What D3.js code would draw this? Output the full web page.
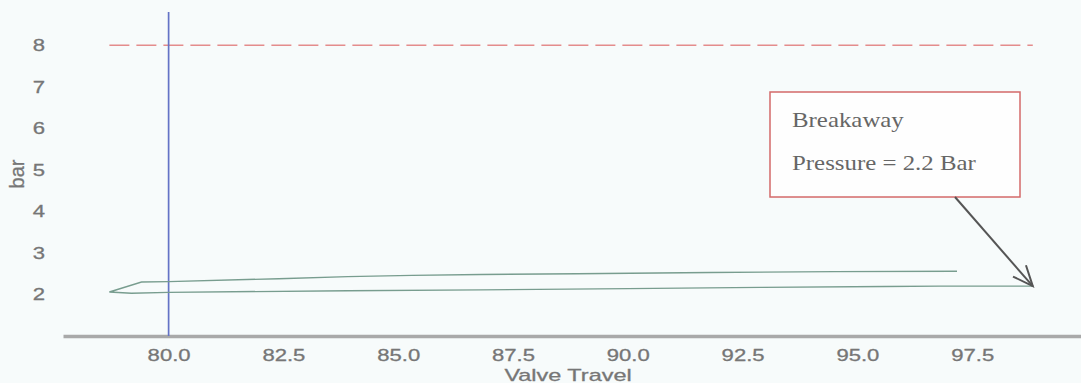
<!DOCTYPE html>
<html>
<head>
<meta charset="utf-8">
<script src="https://cdn.jsdelivr.net/npm/d3@7"></script>
<style>
  html, body { margin: 0; padding: 0; background: #f7fbfb; }
  svg { display: block; }
</style>
</head>
<body>
<svg id="chart" width="1081" height="383"></svg>
<script>
// Valve travel vs. pressure hysteresis trace
// Trace runs from the end of the opening stroke back to the turn-around, then out again.
const travel = [97.17, 94.5, 91.8, 88.9, 86.8, 85.3, 83.9, 82.4, 80.0, 79.41,
                78.71,
                79.19, 80.0, 83.9, 86.8, 90.0, 92.9, 95.6, 96.8, 98.82];
const pressure = [2.56, 2.55, 2.53, 2.50, 2.48, 2.46, 2.43, 2.38, 2.31, 2.30,
                  2.06,
                  2.03, 2.05, 2.09, 2.11, 2.14, 2.17, 2.19, 2.20, 2.20];

const xTicks = [80.0, 82.5, 85.0, 87.5, 90.0, 92.5, 95.0, 97.5];
const yTicks = [2, 3, 4, 5, 6, 7, 8];

const supplyPressure = 8;        // dashed reference line
const markerTravel = 80;         // vertical marker
const breakawayPressure = 2.2;   // annotated value
const breakawayTravel = 98.82;

const xLabel = "Valve Travel";
const yLabel = "bar";

const svg = d3.select("#chart");

const x = d3.scaleLinear().domain([77.7, 99.87]).range([63, 1081]);
const y = d3.scaleLinear().domain([1, 8.8]).range([336, 12]);

const textGray = "#767676";
const sans = "'Liberation Sans', Arial, sans-serif";
const sx = 1.3; // wide glyphs

function styleTick(sel) {
  sel.attr("fill", textGray)
    .attr("stroke", textGray).attr("stroke-width", 0.3)
    .style("font-family", sans)
    .style("font-size", "17px")
    .attr("transform", `scale(${sx},1)`);
}

// X axis
const xAxis = svg.append("g")
  .attr("transform", "translate(0,336)")
  .call(d3.axisBottom(x).tickValues(xTicks).tickSize(0).tickSizeOuter(0)
    .tickPadding(13).tickFormat(d3.format(".1f")));
xAxis.select(".domain").attr("stroke", "#a9a9a9").attr("stroke-width", 3.5);
xAxis.selectAll("text").call(styleTick);

// Y axis
const yAxis = svg.append("g")
  .attr("transform", "translate(63,0)")
  .call(d3.axisLeft(y).tickValues(yTicks).tickSize(0).tickFormat(d3.format("d")));
yAxis.select(".domain").remove();
yAxis.selectAll("text").attr("x", -18 / sx).call(styleTick);

// Axis titles
svg.append("text")
  .attr("transform", `translate(568,381) scale(1.38,1)`)
  .attr("text-anchor", "middle")
  .attr("fill", textGray).attr("stroke", textGray).attr("stroke-width", 0.3)
  .style("font-family", sans)
  .style("font-size", "17px")
  .text(xLabel);

svg.append("text")
  .attr("transform", "translate(17,174) rotate(-90)")
  .attr("text-anchor", "middle")
  .attr("dy", "0.35em")
  .attr("fill", textGray).attr("stroke", textGray).attr("stroke-width", 0.3)
  .style("font-family", sans)
  .style("font-size", "20px")
  .text(yLabel);

// Supply pressure reference (spans the travel range of the trace)
const tExtent = d3.extent(travel);
svg.append("line")
  .attr("x1", x(tExtent[0])).attr("x2", x(tExtent[1]))
  .attr("y1", y(supplyPressure)).attr("y2", y(supplyPressure))
  .attr("stroke", "#e48c8c").attr("stroke-width", 1.4)
  .attr("stroke-dasharray", "20,7");

// Vertical travel marker
svg.append("line")
  .attr("x1", x(markerTravel)).attr("x2", x(markerTravel))
  .attr("y1", y(8.8)).attr("y2", y(1))
  .attr("stroke", "#6473c6").attr("stroke-width", 1.7);

// Hysteresis trace
const pts = travel.map((t, i) => [t, pressure[i]]);
svg.append("path")
  .datum(pts)
  .attr("fill", "none")
  .attr("stroke", "#789d8f")
  .attr("stroke-width", 1.4)
  .attr("d", d3.line().x(d => x(d[0])).y(d => y(d[1])));

// Annotation box
const box = { x: 770, y: 92, w: 250, h: 105 };
svg.append("rect")
  .attr("x", box.x).attr("y", box.y).attr("width", box.w).attr("height", box.h)
  .attr("fill", "#fefefe").attr("stroke", "#d46a6a").attr("stroke-width", 1.5);

const serif = "'Liberation Serif', 'Times New Roman', serif";
[["Breakaway", 127], [`Pressure = ${breakawayPressure} Bar`, 170]].forEach(([s, by]) => {
  svg.append("text")
    .attr("transform", `translate(${box.x + 22},${by}) scale(1.13,1)`)
    .attr("fill", "#666")
    .style("font-family", serif)
    .style("font-size", "22px")
    .text(s);
});

// Arrow from box to the breakaway point
const ax0 = 955, ay0 = box.y + box.h;
const ax1 = x(breakawayTravel), ay1 = y(breakawayPressure);
svg.append("line")
  .attr("x1", ax0).attr("y1", ay0).attr("x2", ax1).attr("y2", ay1)
  .attr("stroke", "#555").attr("stroke-width", 2);
const ang = Math.atan2(ay1 - ay0, ax1 - ax0) + Math.PI;
const headLen = 22, spread = 23 * Math.PI / 180;
const head = [ang - spread, ang + spread].map(a => [ax1 + headLen * Math.cos(a), ay1 + headLen * Math.sin(a)]);
svg.append("path")
  .attr("d", `M${head[0][0]},${head[0][1]}L${ax1},${ay1}L${head[1][0]},${head[1][1]}`)
  .attr("fill", "none").attr("stroke", "#555").attr("stroke-width", 2)
  .attr("stroke-linejoin", "miter");
</script>
</body>
</html>
